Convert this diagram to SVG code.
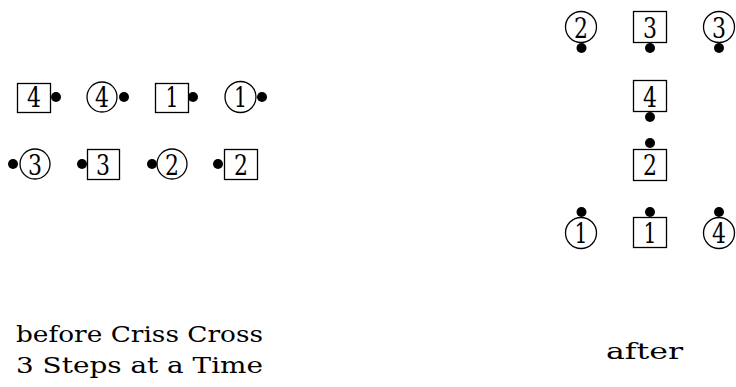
<svg xmlns="http://www.w3.org/2000/svg" width="736" height="387" viewBox="0 0 736 387">
<style>
.b{fill:#fff;stroke:#000;stroke-width:1.3}
.d{fill:#000}
.t{font-size:28px;fill:#000;text-anchor:middle}
.l{font-size:22px;fill:#000}
</style>
<rect width="736" height="387" fill="#fff"/>
<g id="connectors"></g>
<g font-family="DejaVu Serif, serif">
<!-- before: row 1 -->
<g id="s4a"><rect class="b" x="17.5" y="83.5" width="33" height="29"/><text class="t" x="34" y="107" textLength="14" lengthAdjust="spacingAndGlyphs">4</text><circle class="d" cx="56" cy="97" r="5"/></g>
<g id="c4a"><circle class="b" cx="102" cy="97" r="15"/><text class="t" x="102" y="107" textLength="14" lengthAdjust="spacingAndGlyphs">4</text><circle class="d" cx="124" cy="97" r="5"/></g>
<g id="s1a"><rect class="b" x="155.5" y="83.5" width="33" height="29"/><text class="t" x="172" y="107" textLength="13" lengthAdjust="spacingAndGlyphs">1</text><circle class="d" cx="193" cy="97" r="5"/></g>
<g id="c1a"><circle class="b" cx="240.5" cy="97" r="15.5"/><text class="t" x="240.5" y="107" textLength="13" lengthAdjust="spacingAndGlyphs">1</text><circle class="d" cx="262" cy="97" r="5"/></g>
<!-- before: row 2 -->
<g id="c3a"><circle class="b" cx="35" cy="164" r="15"/><text class="t" x="35" y="175" textLength="14" lengthAdjust="spacingAndGlyphs">3</text><circle class="d" cx="13" cy="164" r="5"/></g>
<g id="s3a"><rect class="b" x="87.5" y="149.5" width="32" height="30"/><text class="t" x="103" y="175" textLength="14" lengthAdjust="spacingAndGlyphs">3</text><circle class="d" cx="82" cy="164" r="5"/></g>
<g id="c2a"><circle class="b" cx="172" cy="164" r="15"/><text class="t" x="172" y="175" textLength="14" lengthAdjust="spacingAndGlyphs">2</text><circle class="d" cx="152" cy="164" r="5"/></g>
<g id="s2a"><rect class="b" x="224.5" y="149.5" width="33" height="30"/><text class="t" x="241" y="175" textLength="14" lengthAdjust="spacingAndGlyphs">2</text><circle class="d" cx="218" cy="164" r="5"/></g>
<!-- after -->
<g id="c2b"><circle class="b" cx="581" cy="27" r="15.5"/><text class="t" x="581" y="38" textLength="14" lengthAdjust="spacingAndGlyphs">2</text><circle class="d" cx="581.5" cy="48" r="5"/></g>
<g id="s3b"><rect class="b" x="633.5" y="11.5" width="33" height="31"/><text class="t" x="650" y="38" textLength="14" lengthAdjust="spacingAndGlyphs">3</text><circle class="d" cx="650" cy="48" r="5"/></g>
<g id="c3b"><circle class="b" cx="719" cy="27" r="15.5"/><text class="t" x="719" y="38" textLength="14" lengthAdjust="spacingAndGlyphs">3</text><circle class="d" cx="719" cy="48" r="5"/></g>
<g id="s4b"><rect class="b" x="633.5" y="80.5" width="33" height="31"/><text class="t" x="650" y="107" textLength="14" lengthAdjust="spacingAndGlyphs">4</text><circle class="d" cx="650" cy="117" r="5"/></g>
<g id="s2b"><rect class="b" x="633.5" y="149.5" width="33" height="31"/><text class="t" x="650" y="175" textLength="14" lengthAdjust="spacingAndGlyphs">2</text><circle class="d" cx="650" cy="143" r="5"/></g>
<g id="c1b"><circle class="b" cx="581" cy="233" r="15.5"/><text class="t" x="581" y="243" textLength="13" lengthAdjust="spacingAndGlyphs">1</text><circle class="d" cx="581.5" cy="212" r="5"/></g>
<g id="s1b"><rect class="b" x="633.5" y="217.5" width="33" height="30"/><text class="t" x="650" y="243" textLength="13" lengthAdjust="spacingAndGlyphs">1</text><circle class="d" cx="650" cy="212" r="5"/></g>
<g id="c4b"><circle class="b" cx="719" cy="233" r="15.5"/><text class="t" x="719" y="243" textLength="14" lengthAdjust="spacingAndGlyphs">4</text><circle class="d" cx="719" cy="212" r="5"/></g>
<!-- labels -->
<text class="l" x="16" y="342" textLength="247" lengthAdjust="spacingAndGlyphs">before Criss Cross</text>
<text class="l" x="16" y="373" textLength="247" lengthAdjust="spacingAndGlyphs">3 Steps at a Time</text>
<text class="l" x="606" y="359" textLength="77" lengthAdjust="spacingAndGlyphs">after</text>
</g>
</svg>
